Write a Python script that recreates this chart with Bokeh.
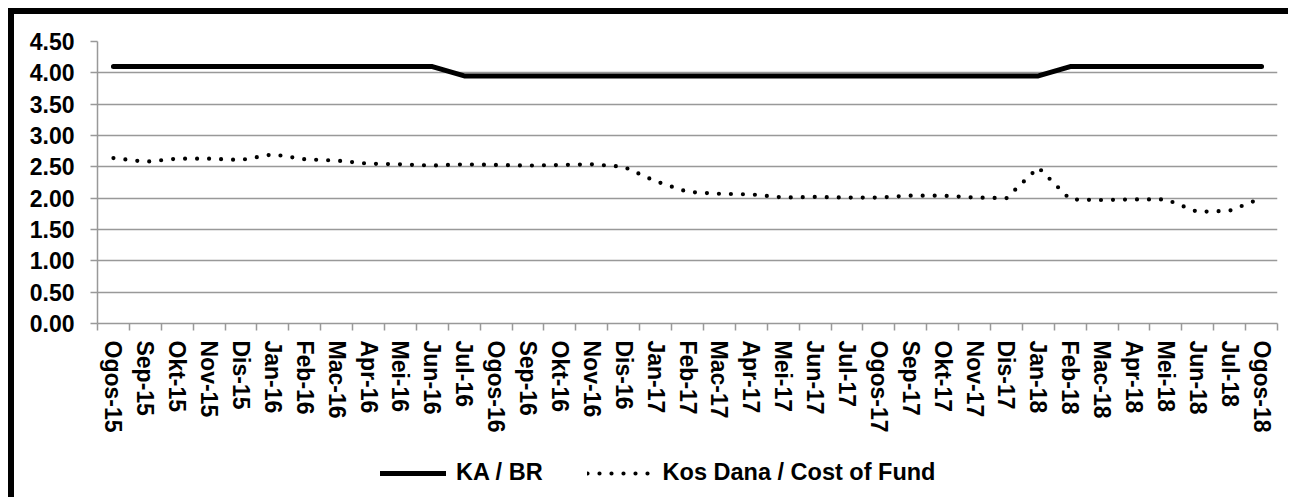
from bokeh.plotting import figure
from bokeh.layouts import column
from bokeh.models import (Range1d, FixedTicker, NumeralTickFormatter, Legend,
                          LegendItem, ColumnDataSource)
from bokeh.embed import file_html
from bokeh.resources import INLINE

categories = ["Ogos-15", "Sep-15", "Okt-15", "Nov-15", "Dis-15", "Jan-16", "Feb-16",
              "Mac-16", "Apr-16", "Mei-16", "Jun-16", "Jul-16", "Ogos-16", "Sep-16",
              "Okt-16", "Nov-16", "Dis-16", "Jan-17", "Feb-17", "Mac-17", "Apr-17",
              "Mei-17", "Jun-17", "Jul-17", "Ogos-17", "Sep-17", "Okt-17", "Nov-17",
              "Dis-17", "Jan-18", "Feb-18", "Mac-18", "Apr-18", "Mei-18", "Jun-18",
              "Jul-18", "Ogos-18"]

ka_br = [4.10, 4.10, 4.10, 4.10, 4.10, 4.10, 4.10, 4.10, 4.10, 4.10, 4.10,
         3.95, 3.95, 3.95, 3.95, 3.95, 3.95, 3.95, 3.95, 3.95, 3.95, 3.95,
         3.95, 3.95, 3.95, 3.95, 3.95, 3.95, 3.95, 3.95,
         4.10, 4.10, 4.10, 4.10, 4.10, 4.10, 4.10]

kos_dana = [2.64, 2.58, 2.63, 2.63, 2.61, 2.70, 2.62, 2.60, 2.55, 2.54, 2.52,
            2.54, 2.53, 2.52, 2.53, 2.54, 2.50, 2.27, 2.10, 2.07, 2.06, 2.01,
            2.02, 2.01, 2.01, 2.04, 2.04, 2.01, 2.00, 2.49, 1.98, 1.97, 1.98,
            1.98, 1.78, 1.80, 2.00]

y_ticks = [0.0, 0.5, 1.0, 1.5, 2.0, 2.5, 3.0, 3.5, 4.0, 4.5]

series_names = ["KA / BR", "Kos Dana / Cost of Fund"]

FONT = "Liberation Sans"
GRID = "#999999"
BORDER = "6px solid black"

ka_style = dict(line_color="black", line_width=5, line_cap="round", line_join="round")
kos_style = dict(line_color="black", line_width=4.2, line_dash="0 12",
                 line_cap="round", line_join="round")

n = len(categories)
src = ColumnDataSource(dict(x=list(range(n)), ka=ka_br, kos=kos_dana))

W = 1280
p = figure(width=W, height=436,
           x_range=Range1d(-0.5, n - 0.5), y_range=Range1d(y_ticks[0], y_ticks[-1]),
           output_backend="svg", toolbar_location=None,
           min_border_left=83, min_border_right=17,
           min_border_top=27, min_border_bottom=127)
p.styles = {"border-left": BORDER, "border-top": BORDER}
p.outline_line_color = None
p.background_fill_color = "white"
p.border_fill_color = "white"

r1 = p.line("x", "ka", source=src, **ka_style)
r2 = p.line("x", "kos", source=src, **kos_style)

# x axis: labels at category centres, ticks at category boundaries
p.xaxis.ticker = FixedTicker(ticks=list(range(n)),
                             minor_ticks=[i - 0.5 for i in range(n + 1)])
p.xaxis.major_label_overrides = {i: c for i, c in enumerate(categories)}
p.xaxis.major_label_orientation = "vertical"
p.xaxis.major_tick_out = 0
p.xaxis.major_tick_in = 0
p.xaxis.minor_tick_out = 7
p.xaxis.minor_tick_in = 0
p.xaxis.minor_tick_line_color = GRID
p.xaxis.minor_tick_line_width = 1.5
p.xaxis.major_label_standoff = 10
p.xaxis.major_label_text_font_size = "23px"

p.yaxis.ticker = FixedTicker(ticks=y_ticks)
p.yaxis.formatter = NumeralTickFormatter(format="0.00")
p.yaxis.major_tick_out = 7
p.yaxis.major_tick_in = 0
p.yaxis.major_tick_line_color = GRID
p.yaxis.major_tick_line_width = 1.5
p.yaxis.minor_tick_line_color = None
p.yaxis.major_label_standoff = 16
p.yaxis.major_label_text_font_size = "23px"

for ax in (p.xaxis, p.yaxis):
    ax.axis_line_color = GRID
    ax.axis_line_width = 1.5
    ax.major_label_text_font = FONT
    ax.major_label_text_font_style = "bold"
    ax.major_label_text_color = "black"

p.xgrid.visible = False
p.ygrid.ticker = FixedTicker(ticks=y_ticks)
p.ygrid.grid_line_color = GRID
p.ygrid.grid_line_width = 1.5

# legend strip below the chart: same series/styles, drawn outside its view range
LH = 53
pl = figure(width=W, height=LH, x_range=Range1d(-0.5, n - 0.5), y_range=Range1d(10, 11),
            output_backend="svg", toolbar_location=None,
            min_border_left=0, min_border_right=0, min_border_top=0, min_border_bottom=0)
pl.styles = {"border-left": BORDER}
pl.axis.visible = False
pl.grid.visible = False
pl.outline_line_color = None
l1 = pl.line("x", "ka", source=src, **ka_style)
l2 = pl.line("x", "kos", source=src, **kos_style)

legend = Legend(items=[LegendItem(label=series_names[0], renderers=[l1]),
                       LegendItem(label=series_names[1], renderers=[l2])],
                orientation="horizontal", location=(283, 11),
                glyph_width=66, glyph_height=20, label_standoff=10, spacing=44,
                padding=0, margin=0, border_line_color=None,
                background_fill_alpha=0,
                label_text_font=FONT, label_text_font_style="bold",
                label_text_font_size="23.5px", label_text_color="black")
pl.add_layout(legend, "center")

layout = column(p, pl, spacing=0)
layout.styles = {"margin-left": "8px", "margin-top": "8px"}

open("out.html", "w").write(file_html(layout, INLINE))
